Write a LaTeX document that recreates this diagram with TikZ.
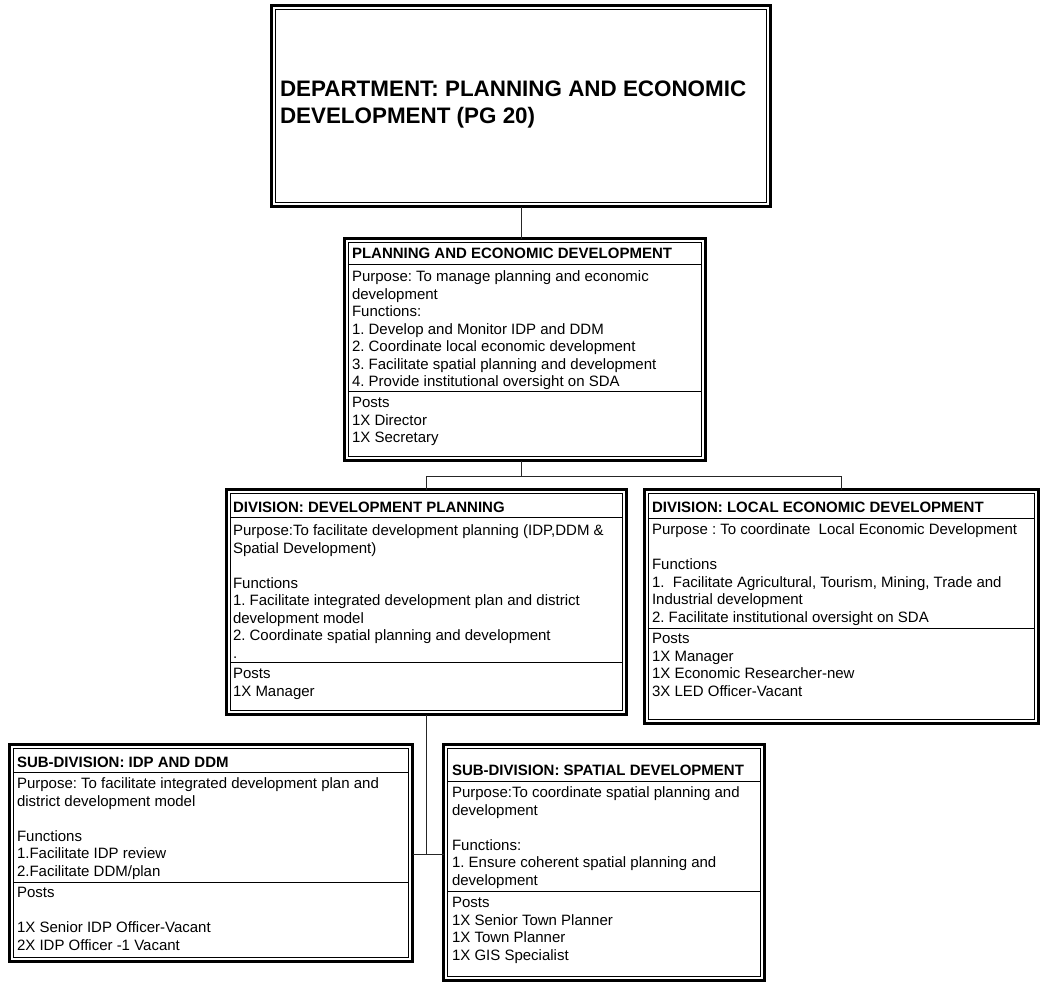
\documentclass[tikz,border=0pt]{standalone}
\usepackage{fontspec}
\setmainfont{Liberation Sans}
\frenchspacing
\newcommand{\orglines}[1]{\begin{tabular}[t]{@{}l@{}}#1\end{tabular}}
\tikzset{
  orgbox/.style={draw, line width=3bp, inner sep=0pt, outer sep=0pt, anchor=north west,
    path picture={\draw[line width=1bp] ([shift={(3.8bp,-3.8bp)}]path picture bounding box.north west) rectangle ([shift={(-3.8bp,3.8bp)}]path picture bounding box.south east);}},
  sepline/.style={line width=1bp},
  conn/.style={line width=0.9bp, draw=black!85},
  txt/.style={inner sep=0pt, outer sep=0pt, anchor=base west, font=\fontsize{15bp}{17.5bp}\selectfont},
  hdr/.style={txt, font=\fontsize{15bp}{17.5bp}\selectfont\bfseries},
  ttl/.style={inner sep=0pt, outer sep=0pt, anchor=base west, font=\fontsize{22.4bp}{27bp}\selectfont\bfseries}
}
\begin{document}
\begin{tikzpicture}[x=1bp,y=-1bp]
\useasboundingbox[fill=white] (0,0) rectangle (1045,988);
% boxes
\node[orgbox, minimum width=499bp, minimum height=201bp] (b1) at (271.5,5.5) {};
\node[orgbox, minimum width=361bp, minimum height=222bp] (b2) at (344.5,238.5) {};
\node[orgbox, minimum width=400bp, minimum height=225bp] (dp) at (226.5,489.5) {};
\node[orgbox, minimum width=394bp, minimum height=234bp] (led) at (644.5,489.5) {};
\node[orgbox, minimum width=403bp, minimum height=217bp] (idp) at (9.5,744.5) {};
\node[orgbox, minimum width=321bp, minimum height=236bp] (sp) at (443.5,744.5) {};
% separators
\draw[sepline] (348,264) -- (702,264);
\draw[sepline] (348,391) -- (702,391);
\draw[sepline] (230,517) -- (623,517);
\draw[sepline] (230,662) -- (623,662);
\draw[sepline] (648,518) -- (1035,518);
\draw[sepline] (648,628) -- (1035,628);
\draw[sepline] (13,772) -- (409,772);
\draw[sepline] (13,882) -- (409,882);
\draw[sepline] (447,781) -- (761,781);
\draw[sepline] (447,891) -- (761,891);
% connectors
\draw[conn] (b1.south) -- (b1.south |- b2.north);
\draw[conn] (b1.south |- b2.south) -- (b1.south |- 0,476);
\draw[conn] (dp.north) -- (dp.north |- 0,476) -- (led.north |- 0,476) -- (led.north);
\draw[conn] (dp.south) -- (dp.south |- 0,854);
\draw[conn] (idp.east |- 0,854) -- (sp.west |- 0,854);
% texts
\node[ttl] (t1) at (280,96.5) {\orglines{DEPARTMENT: PLANNING AND ECONOMIC\\DEVELOPMENT (PG 20)}};

\node[hdr] (b2h) at (352,258.5) {PLANNING AND ECONOMIC DEVELOPMENT};
\node[txt] (b2b) at (352,281.5) {\orglines{Purpose: To manage planning and economic\\development\\Functions:\\1. Develop and Monitor IDP and DDM\\2. Coordinate local economic development\\3. Facilitate spatial planning and development\\4. Provide institutional oversight on SDA}};
\node[txt] (b2p) at (352,407.5) {\orglines{Posts\\1X Director\\1X Secretary}};

\node[hdr] (dph) at (233,512.5) {DIVISION: DEVELOPMENT PLANNING};
\node[txt] (dpb) at (233,535.5) {\orglines{Purpose:To facilitate development planning (IDP,DDM \&\\Spatial Development)\\ \\Functions\\1. Facilitate integrated development plan and district\\development model\\2. Coordinate spatial planning and development\\.}};
\node[txt] (dpp) at (233,678.5) {\orglines{Posts\\1X Manager}};

\node[hdr] (ledh) at (652,512.5) {DIVISION: LOCAL ECONOMIC DEVELOPMENT};
\node[txt] (ledb) at (652,534.5) {\orglines{Purpose : To coordinate\ \ Local Economic Development\\ \\Functions\\1.\ \ Facilitate Agricultural, Tourism, Mining, Trade and\\Industrial development\\2. Facilitate institutional oversight on SDA}};
\node[txt] (ledp) at (652,643.5) {\orglines{Posts\\1X Manager\\1X Economic Researcher-new\\3X LED Officer-Vacant}};

\node[hdr] (idph) at (17,767.5) {SUB-DIVISION: IDP AND DDM};
\node[txt] (idpb) at (17,788.5) {\orglines{Purpose: To facilitate integrated development plan and\\district development model\\ \\Functions\\1.Facilitate IDP review\\2.Facilitate DDM/plan}};
\node[txt] (idpp) at (17,897.5) {\orglines{Posts\\ \\1X Senior IDP Officer-Vacant\\2X IDP Officer -1 Vacant}};

\node[hdr] (sph) at (452,775.5) {SUB-DIVISION: SPATIAL DEVELOPMENT};
\node[txt] (spb) at (452,797.5) {\orglines{Purpose:To coordinate spatial planning and\\development\\ \\Functions:\\1. Ensure coherent spatial planning and\\development}};
\node[txt] (spp) at (452,907.5) {\orglines{Posts\\1X Senior Town Planner\\1X Town Planner\\1X GIS Specialist}};
\end{tikzpicture}
\end{document}
